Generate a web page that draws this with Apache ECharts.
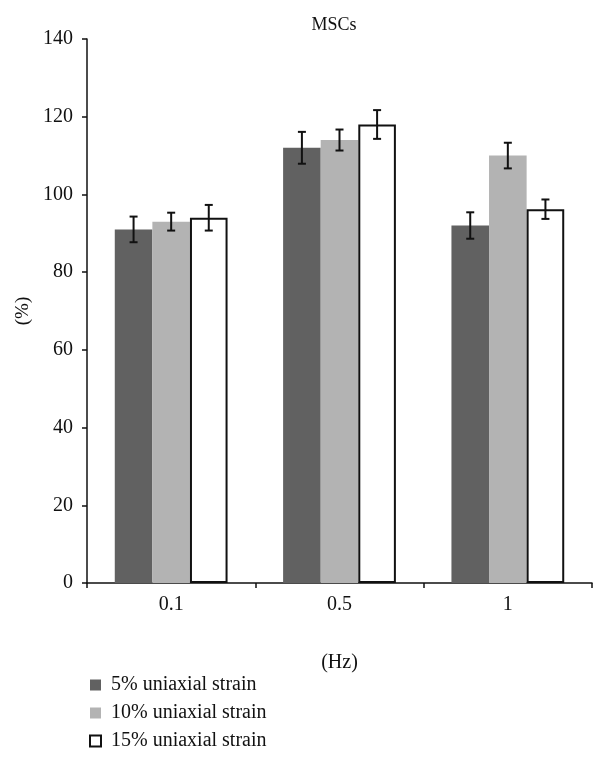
<!DOCTYPE html>
<html>
<head>
<meta charset="utf-8">
<script src="https://cdn.jsdelivr.net/npm/echarts@6/dist/echarts.min.js"></script>
<style>html,body{margin:0;padding:0;background:#fff}#c{width:606px;height:759px}</style>
</head>
<body>
<div id="c"></div>
<script>
const categories = ['0.1', '0.5', '1'];
const seriesNames = ['5% uniaxial strain', '10% uniaxial strain', '15% uniaxial strain'];
const values5 = [91, 112, 92];
const values10 = [93, 114, 110];
const values15 = [94, 118, 96.2];
const errors5 = [3.3, 4.1, 3.4];
const errors10 = [2.3, 2.7, 3.3];
const errors15 = [3.3, 3.7, 2.5];
const yTicks = [0, 20, 40, 60, 80, 100, 120, 140];

const FONT = 'Liberation Serif';
const barGapCat = 0.33;
const allValues = [values5, values10, values15];
const allErrors = [errors5, errors10, errors15];

const chart = echarts.init(document.getElementById('c'));

function errorSeries(idx) {
  const data = categories.map((c, i) => [i, allValues[idx][i], allErrors[idx][i]]);
  return {
    type: 'custom',
    name: 'err' + idx,
    z: 10,
    silent: true,
    data: data,
    renderItem: function (params, api) {
      const i = api.value(0);
      const v = api.value(1);
      const e = api.value(2);
      const catW = api.size([1, 0])[0];
      const bw = catW * (1 - barGapCat) / 3;
      const center = api.coord([i, 0])[0] + (idx - 1) * bw;
      const top = api.coord([i, v + e])[1];
      const bot = api.coord([i, v - e])[1];
      const cap = 4;
      const style = { stroke: '#111', lineWidth: 2 };
      return {
        type: 'group',
        children: [
          { type: 'line', shape: { x1: center, y1: top, x2: center, y2: bot }, style: style },
          { type: 'line', shape: { x1: center - cap, y1: top, x2: center + cap, y2: top }, style: style },
          { type: 'line', shape: { x1: center - cap, y1: bot, x2: center + cap, y2: bot }, style: style }
        ]
      };
    }
  };
}

const colors = ['#616161', '#b3b3b3', '#ffffff'];

const option = {
  animation: false,
  textStyle: { fontFamily: FONT },
  title: {
    text: 'MSCs',
    left: 329, top: 11, textAlign: 'center',
    textStyle: { fontFamily: FONT, fontSize: 18, fontWeight: 'normal', color: '#111' }
  },
  grid: { left: 87, right: 14, top: 39, bottom: 176 },
  legend: {
    data: seriesNames,
    orient: 'vertical',
    left: 89, top: 675, padding: 0,
    itemWidth: 11, itemHeight: 11,
    itemGap: 8,
    icon: 'rect',
    textStyle: { fontFamily: FONT, fontSize: 20, lineHeight: 17, color: '#111', padding: [0, 0, 0, 5] }
  },
  xAxis: {
    type: 'category',
    data: categories,
    name: '(Hz)',
    nameLocation: 'middle',
    nameGap: 70,
    nameTextStyle: { fontFamily: FONT, fontSize: 20, color: '#111' },
    axisLine: { lineStyle: { color: '#111', width: 1.5 } },
    axisTick: { show: true, length: 5, lineStyle: { color: '#111', width: 1.5 } },
    axisLabel: { fontFamily: FONT, fontSize: 20, color: '#111', margin: 12 }
  },
  yAxis: {
    type: 'value',
    min: 0, max: 140, interval: 20,
    name: '(%)',
    nameLocation: 'middle',
    nameGap: 51,
    nameTextStyle: { fontFamily: FONT, fontSize: 19, color: '#111' },
    axisLine: { show: true, lineStyle: { color: '#111', width: 1.5 } },
    axisTick: { show: true, length: 5, lineStyle: { color: '#111', width: 1.5 } },
    axisLabel: { fontFamily: FONT, fontSize: 20, color: '#111', margin: 14,
      formatter: v => yTicks.includes(v) ? String(v) : '' },
    splitLine: { show: false }
  },
  series: [
    { type: 'bar', name: seriesNames[0], data: values5, barGap: '0%', barCategoryGap: '33%',
      itemStyle: { color: colors[0] } },
    { type: 'bar', name: seriesNames[1], data: values10, barGap: '0%', barCategoryGap: '33%',
      itemStyle: { color: colors[1] } },
    { type: 'bar', name: seriesNames[2], data: values15, barGap: '0%', barCategoryGap: '33%',
      itemStyle: { color: colors[2], borderColor: '#111', borderWidth: 2 } },
    errorSeries(0), errorSeries(1), errorSeries(2)
  ]
};
chart.setOption(option);
</script>
</body>
</html>
